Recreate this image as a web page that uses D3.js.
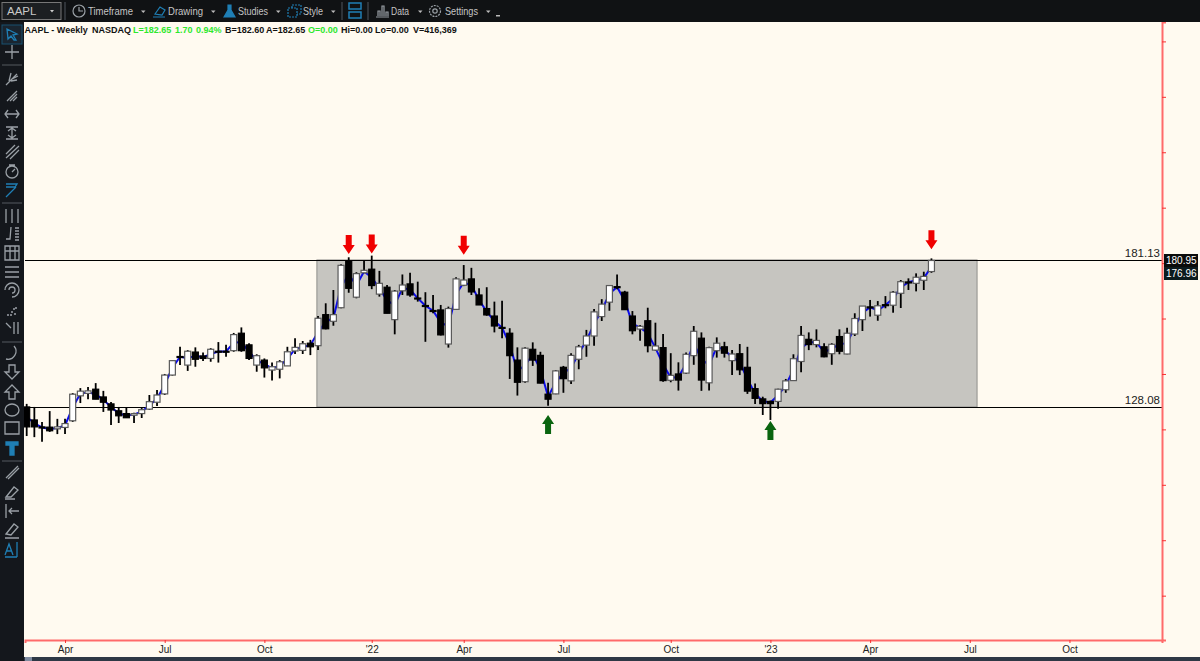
<!DOCTYPE html>
<html>
<head>
<meta charset="utf-8">
<script src="https://cdn.jsdelivr.net/npm/d3@7"></script>
<style>
html, body { margin: 0; padding: 0; background: #fffaf0; overflow: hidden; }
text { font-family: "Liberation Sans", Arial, sans-serif; }
</style>
</head>
<body>
<svg id="chart" width="1200" height="661"></svg>
<script>
// weekly AAPL values, one entry per week
var opens = [128.1,123.4,120.9,120.8,120.2,120.7,123.1,132.1,133.0,134.5,131.7,129.2,126.7,125.7,125.1,125.7,127.3,129.8,132.8,139.6,146.3,143.2,147.9,146.5,145.6,148.2,148.2,148.4,154.7,150.5,143.2,145.0,141.4,141.7,142.9,148.3,148.5,151.1,150.2,161.4,159.0,163.9,180.9,167.7,176.5,177.8,168.8,171.3,159.6,170.0,172.5,167.4,164.7,162.9,163.1,150.8,163.3,172.0,174.3,168.5,163.6,160.9,156.8,154.7,145.0,137.2,148.9,146.7,132.7,132.8,142.4,137.5,145.3,150.4,153.7,160.7,165.9,171.5,169.5,160.9,156.2,159.2,148.6,149.5,137.7,140.0,140.3,146.6,152.9,136.8,148.4,149.8,144.8,147.3,142.4,134.7,131.0,130.1,130.1,134.3,137.6,144.5,152.5,150.6,149.8,147.3,153.5,147.2,154.4,159.6,164.2,161.2,165.0,164.8,169.1,173.2,172.7,173.8,176.96];
var highs = [129.2,128.1,122.7,126.6,123.8,123.8,133.1,134.9,135.3,136.7,133.9,129.9,128.1,127.8,126.0,127.7,132.4,134.2,140.0,145.0,149.8,148.6,149.6,147.7,149.3,151.5,150.5,154.8,156.8,151.1,147.1,145.6,144.1,145.0,149.8,152.9,151.9,152.3,160.9,165.5,170.3,179.6,182.1,176.7,180.9,182.7,177.2,172.1,170.3,175.9,176.5,173.3,169.5,168.5,164.9,164.3,174.9,179.3,178.3,170.9,171.3,166.1,166.4,156.5,149.6,149.6,151.4,148.0,136.8,141.4,142.9,147.5,150.5,155.9,163.4,167.0,172.1,175.9,170.0,162.7,157.7,163.9,158.5,154.4,147.5,144.2,147.7,157.3,155.0,149.8,153.2,151.6,148.6,150.8,149.8,136.6,131.8,130.4,134.7,138.2,147.1,157.3,155.0,156.1,151.1,151.1,156.1,156.7,161.9,164.5,166.7,166.3,168.1,169.9,173.9,174.5,176.3,176.9,181.7];
var lows = [117.6,117.2,115.5,119.1,118.3,118.3,122.7,129.5,130.9,130.9,126.3,121.6,122.3,124.1,122.3,124.1,127.0,128.4,132.4,139.4,143.2,141.1,142.6,144.7,144.4,144.1,146.2,148.0,148.0,145.0,140.8,138.7,137.6,138.4,142.9,147.2,147.2,146.8,148.6,156.1,157.4,163.7,169.3,167.3,176.3,170.6,167.9,161.9,154.3,168.5,167.9,166.1,151.6,161.9,153.9,149.5,163.1,171.7,168.5,164.9,161.0,155.0,152.9,138.2,132.2,136.8,142.9,136.6,128.5,132.7,133.2,136.4,141.7,146.2,150.2,159.1,162.8,170.6,163.1,154.3,152.0,147.8,148.4,137.2,137.0,134.0,140.0,143.3,133.9,134.0,145.9,145.9,139.6,139.6,132.8,129.2,125.2,123.4,127.4,133.2,137.6,140.6,148.6,149.6,146.0,143.3,147.1,147.1,153.7,155.5,160.7,159.2,163.7,162.1,163.8,170.3,169.8,170.3,176.5];
var closes = [120.9,120.9,120.5,119.5,120.9,122.1,132.7,133.8,133.9,130.9,129.8,127.0,124.9,124.2,125.7,127.1,130.0,132.4,139.6,144.8,146.1,148.2,145.3,145.6,148.9,148.0,148.0,154.2,148.4,145.6,146.6,142.2,142.6,144.4,148.0,149.6,150.9,149.8,160.1,156.3,161.4,179.2,170.9,176.2,177.4,171.9,172.7,161.9,169.9,172.1,168.5,167.2,164.5,162.7,154.1,163.6,174.3,173.9,169.6,164.9,161.3,157.3,156.6,146.6,137.0,149.3,145.0,136.7,130.9,141.1,138.3,146.7,149.8,153.7,162.4,165.2,171.9,171.3,163.2,155.6,157.2,150.2,150.1,137.6,139.5,137.8,147.1,155.4,137.8,149.5,151.1,147.5,147.2,141.5,133.8,131.2,129.3,129.3,134.5,137.5,145.5,153.9,150.6,152.1,146.2,150.7,148.2,154.7,160.0,164.5,164.0,164.6,164.8,169.5,173.3,173.0,174.9,175.2,180.95];
var lineValues = [124.5,122.2,120.7,120.1,120.5,121.4,127.9,132.9,133.4,132.7,130.7,128.1,125.8,124.9,125.4,126.4,128.6,131.1,136.2,142.2,146.2,145.7,146.6,146.0,147.2,148.1,148.1,151.3,151.5,148.0,144.9,143.6,142.0,143.0,145.4,149.0,149.7,150.4,155.1,158.8,160.2,171.5,175.9,172.0,177.0,174.8,170.8,166.6,164.8,171.0,170.5,167.3,164.6,162.8,158.6,157.2,168.8,173.0,172.0,166.7,162.5,159.1,156.7,150.6,141.0,143.2,147.0,141.7,131.8,137.0,140.4,142.1,147.5,152.0,158.0,163.0,168.9,171.4,166.4,158.2,156.7,154.7,149.4,143.5,138.6,138.9,143.7,151.0,145.4,143.2,149.8,148.7,146.0,144.4,138.1,133.0,130.2,129.7,132.3,135.9,141.6,149.2,151.5,151.4,148.0,149.0,150.9,151.0,157.2,162.0,164.1,162.9,164.9,167.2,171.2,173.1,173.8,174.5,178.8];

var tickWeeks = [5,18,31,45,57,70,84,97,110,123,136];
var tickLabels = ["Apr","Jul","Oct","'22","Apr","Jul","Oct","'23","Apr","Jul","Oct"];
var priceTicks = [60,80,100,120,140,160,180,200,220,240,260];

var levelTop = 181.13;
var levelBottom = 128.08;
var boxWeeks = [37.85,123.95];

var downArrowWeeks = [42,45,57,118];
var downArrowPrices = [183.3,183.5,183.0,185.0];
var upArrowWeeks = [68,97];
var upArrowPrices = [125.2,123.0];

var priceTags = [180.95,176.96];

var headerText = ["AAPL - Weekly","NASDAQ","L=182.65","1.70","0.94%","B=182.60","A=182.65","O=0.00","Hi=0.00","Lo=0.00","V=416,369"];
var headerX = [24.5,92,133,175,196,225,266,308,341,375,413];
var headerGreen = [false,false,true,true,true,false,false,true,false,false,false];

var toolbarLabels = ["Timeframe","Drawing","Studies","Style","Data","Settings"];
var toolbarX = [88,168,238,303,391,445];
var toolbarWidth = [45,35,30,20,18,33];
var caretX = [141,211,276,331,418,486];

var svg = d3.select("#chart");

var x = d3.scaleLinear().domain([-0.22,148.07]).range([25,1162]);
var y = d3.scaleLinear().domain([44,267]).range([640,22]);

// chart background
svg.append("rect").attr("width",1200).attr("height",661).attr("fill","#fffaf0");

// grey box between the two levels
svg.append("rect")
  .attr("x",x(boxWeeks[0]))
  .attr("y",y(levelTop))
  .attr("width",x(boxWeeks[1])-x(boxWeeks[0]))
  .attr("height",y(levelBottom)-y(levelTop))
  .attr("fill","#c6c5c0")
  .attr("stroke","#8f8f8b")
  .attr("stroke-width",1);

// level lines
[levelTop,levelBottom].forEach(function(level){
  svg.append("line")
    .attr("x1",25).attr("x2",1162)
    .attr("y1",Math.round(y(level))+0.5).attr("y2",Math.round(y(level))+0.5)
    .attr("stroke","#000").attr("stroke-width",1);
  svg.append("text")
    .attr("x",1160).attr("y",y(level)-3)
    .attr("text-anchor","end")
    .attr("font-size",11.5)
    .attr("fill","#222")
    .text(level.toFixed(2));
});

// blue line behind the candles
var line = d3.line()
  .x(function(d,i){ return x(i); })
  .y(function(d){ return y(d); });
svg.append("path")
  .attr("d",line(lineValues))
  .attr("fill","none")
  .attr("stroke","#0c0ce8")
  .attr("stroke-width",2);

// candles
var candle = svg.append("g").selectAll("g").data(closes).enter().append("g");

candle.append("line")
  .attr("x1",function(d,i){ return x(i); })
  .attr("x2",function(d,i){ return x(i); })
  .attr("y1",function(d,i){ return y(highs[i]); })
  .attr("y2",function(d,i){ return y(lows[i]); })
  .attr("stroke","#000")
  .attr("stroke-width",1.8);

candle.append("rect")
  .attr("x",function(d,i){ return x(i)-3; })
  .attr("width",6)
  .attr("y",function(d,i){ return y(Math.max(opens[i],closes[i])); })
  .attr("height",function(d,i){ return Math.max(1,Math.abs(y(opens[i])-y(closes[i]))); })
  .attr("fill",function(d,i){ return closes[i]>=opens[i] ? "#fff" : "#000"; })
  .attr("stroke",function(d,i){ return closes[i]>=opens[i] ? "#5a5a5a" : "#000"; })
  .attr("stroke-width",1.2);

// arrows, tip sits on the price
function arrow(week,price,color,dir){
  var px = x(week), py = y(price);
  var h = 19*dir, head = 9*dir;
  svg.append("path")
    .attr("d","M"+px+","+py+
      "L"+(px-6)+","+(py-head)+
      "L"+(px-3)+","+(py-head)+
      "L"+(px-3)+","+(py-h)+
      "L"+(px+3)+","+(py-h)+
      "L"+(px+3)+","+(py-head)+
      "L"+(px+6)+","+(py-head)+"Z")
    .attr("fill",color);
}
downArrowWeeks.forEach(function(w,i){ arrow(w,downArrowPrices[i],"#f00000",1); });
upArrowWeeks.forEach(function(w,i){ arrow(w,upArrowPrices[i],"#0a640f",-1); });

// axes
var xAxis = d3.axisBottom(x)
  .tickValues(tickWeeks)
  .tickSize(3)
  .tickPadding(3)
  .tickFormat(function(d,i){ return tickLabels[i]; });
var xg = svg.append("g").attr("transform","translate(0,640)").call(xAxis);
xg.selectAll("text").attr("font-size",10).attr("fill","#222").style("font-family","'Liberation Sans', Arial, sans-serif");

var yAxis = d3.axisRight(y)
  .tickValues(priceTicks)
  .tickSize(4)
  .tickFormat("");
var yg = svg.append("g").attr("transform","translate(1162,0)").call(yAxis);

[xg,yg].forEach(function(g){
  g.select(".domain").attr("stroke","#ff6a6a").attr("stroke-width",2);
  g.selectAll(".tick line").attr("stroke","#f83030");
});

// price tags on the right axis
var tagFill = ["#0b0b0b","#0c1a1e"];
priceTags.forEach(function(tag,i){
  svg.append("rect")
    .attr("x",1164).attr("y",254+i*13)
    .attr("width",34).attr("height",13)
    .attr("fill",tagFill[i]);
  svg.append("text")
    .attr("x",1166).attr("y",264+i*13)
    .attr("font-size",10)
    .attr("fill","#fff")
    .text(tag.toFixed(2));
});

// header text
headerText.forEach(function(t,i){
  svg.append("text")
    .attr("x",headerX[i]).attr("y",33)
    .attr("font-size",9)
    .attr("font-weight","bold")
    .attr("fill",headerGreen[i] ? "#2ee82e" : "#111")
    .text(t);
});

// top toolbar
svg.append("rect").attr("width",1200).attr("height",22).attr("fill","#101214");
svg.append("rect").attr("x",2).attr("y",2.5).attr("width",59).attr("height",17)
  .attr("fill","#1c1f22").attr("stroke","#777").attr("stroke-width",1);
svg.append("text").attr("x",7).attr("y",15).attr("font-size",11.5).attr("fill","#c8c8c8").text("AAPL");
svg.append("path").attr("d","M50,10h4l-2,2.5z").attr("fill","#ccc");

toolbarLabels.forEach(function(t,i){
  svg.append("text")
    .attr("x",toolbarX[i]).attr("y",15)
    .attr("font-size",11.5)
    .attr("textLength",toolbarWidth[i])
    .attr("lengthAdjust","spacingAndGlyphs")
    .attr("fill","#c4c4c4")
    .text(t);
});
caretX.forEach(function(cx){
  svg.append("path").attr("d","M"+cx+",10.5h4.5l-2.2,2.5z").attr("fill","#bbb");
});
svg.append("path").attr("d","M496,15h4v1.5h-4z").attr("fill","#bbb");

// toolbar icons
var iconGrey = "#9aa0a6", iconBlue = "#1f7fb5";
var topIcons = svg.append("g").attr("fill","none").attr("stroke-width",1.2);
topIcons.append("circle").attr("cx",79).attr("cy",11).attr("r",6).attr("stroke",iconGrey);
topIcons.append("path").attr("d","M79,7v4h4").attr("stroke",iconGrey);
topIcons.append("path").attr("d","M153,17h12M155,14l5,-7l5,3l-3,5z").attr("stroke",iconBlue);
topIcons.append("path").attr("d","M224,17l4,-7v-5h3v5l4,7z").attr("fill",iconBlue).attr("stroke",iconBlue);
topIcons.append("path").attr("d","M288,8h9v9h-9zM292,8v-3h9v9h-4").attr("stroke",iconBlue).attr("stroke-dasharray","2 1");
topIcons.append("path").attr("d","M349,3h12v6h-12zM349,12h12v6h-12z").attr("stroke",iconBlue).attr("stroke-width",1.5);
topIcons.append("path").attr("d","M376,17h13M378,16v-5h2v5M382,16v-10h2v10M386,16v-4h2v4").attr("stroke",iconGrey);
topIcons.append("circle").attr("cx",435).attr("cy",11).attr("r",5.5).attr("stroke",iconGrey).attr("stroke-dasharray","2 1");
topIcons.append("circle").attr("cx",435).attr("cy",11).attr("r",2.2).attr("stroke",iconGrey);
[65,342,368].forEach(function(sx){
  svg.append("line").attr("x1",sx).attr("x2",sx).attr("y1",2).attr("y2",20).attr("stroke","#3a3f45").attr("stroke-width",1.5);
});

// left toolbar
svg.append("rect").attr("y",22).attr("width",24).attr("height",639).attr("fill","#14171c");
svg.append("rect").attr("x",2).attr("y",25).attr("width",20).attr("height",19).attr("fill","#1a2530").attr("stroke","#18506f");
var iconY = [34,52,79,96,114,133,152,171,190,216,234,253,272,290,310,328,353,372,392,410,428,448,472,492,511,530,549];
var iconPaths = [
  "M-5,-5L5,0L1,1L4,6L2,6L-1,2L-4,5Z",
  "M-7,0H7M0,-7V7",
  "M-6,6L5,-5M-3,2L-1,-6M0,0L6,-3M-1,2L5,1",
  "M-5,5L5,-5M-2,5L5,-2M1,5L5,1",
  "M-7,0H7M-4,-4L-7,0L-4,4M4,-4L7,0L4,4",
  "M-6,-6H6M-6,6H6M0,-4V4M-4,-2L0,-5L4,-2M-4,2L0,5L4,2",
  "M-6,2L3,-7M-6,6L7,-6M-2,7L7,-2",
  "M-6,1A6,6 0 1 0 6,1A6,6 0 1 0 -6,1M-3,-6H3M0,1L3,-2",
  "M-6,-6H5L3,-3H-6M-6,7L4,-3",
  "M-6,-7V7M0,-7V7M6,-7V7",
  "M-6,5L-2,5L-1,-7M3,-6H7M3,-3H7M3,0H7M3,3H7M3,6H7",
  "M-7,-7H7V7H-7ZM-7,-2H7M-2,-7V7M3,-7V7",
  "M-7,-5H7M-7,0H7M-7,5H7",
  "M-7,0A7,7 0 1 1 0,7M-3,0A3,3 0 1 1 0,3",
  "M-5,5H-3M-1,2H1M3,-2H5M-2,5H0M1,-1H3M2,4H4",
  "M-6,-5L-1,0M2,-6V6M6,-6V6",
  "M2,-7A8,8 0 0 1 -6,6",
  "M-3,-7H3V0H7L0,7L-7,0H-3Z",
  "M-3,7H3V0H7L0,-7L-7,0H-3Z",
  "M-7,0A7,6 0 1 1 7,0A7,6 0 1 1 -7,0",
  "M-7,-6H7V6H-7Z",
  "M-6,-6H6V-3H2V7H-2V-3H-6Z",
  "M-6,6L6,-6M-4,7L7,-4",
  "M-6,5L2,-5L6,-2L-1,5ZM-7,7H3",
  "M-6,-7V7M7,0H-3M0,-3L-3,0L0,3",
  "M-6,4L2,-6L6,-3L-1,5ZM-7,8H7",
  "M-7,6L-3,-5L1,6M-5,2H-1M5,-7V8M-7,8H5"
];
var blueIcons = [0,8,21,26];
iconPaths.forEach(function(p,i){
  svg.append("path")
    .attr("transform","translate(12,"+iconY[i]+")")
    .attr("d",p)
    .attr("fill",i==21 ? iconBlue : "none")
    .attr("stroke",blueIcons.indexOf(i)>=0 ? iconBlue : iconGrey)
    .attr("stroke-width",1.3);
});
[65,203,342,461].forEach(function(sy){
  svg.append("line").attr("x1",2).attr("x2",22).attr("y1",sy).attr("y2",sy).attr("stroke","#4a4f55").attr("stroke-width",1.2);
});

// bottom scrollbar
svg.append("rect").attr("x",24).attr("y",657).attr("width",1176).attr("height",4).attr("fill","#2e3845");
svg.append("rect").attr("x",25).attr("y",657).attr("width",7).attr("height",4).attr("fill","#7f8ba0");
</script>
</body>
</html>
